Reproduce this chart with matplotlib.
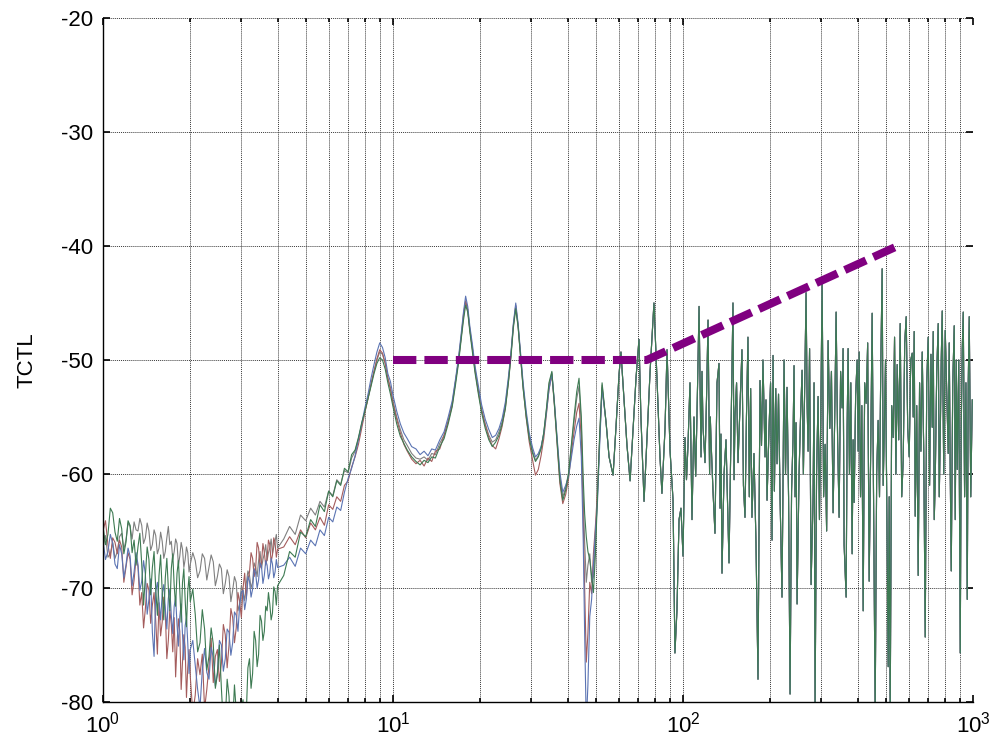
import numpy as np
import matplotlib
matplotlib.use("Agg")
import matplotlib.pyplot as plt
from matplotlib.ticker import FixedLocator, FixedFormatter, FuncFormatter, NullFormatter

plt.rcParams['font.family'] = ['Liberation Sans', 'DejaVu Sans']
plt.rcParams['mathtext.fontset'] = 'custom'
plt.rcParams['mathtext.rm'] = 'Liberation Sans'
plt.rcParams['mathtext.it'] = 'Liberation Sans'
plt.rcParams['axes.unicode_minus'] = False

# ---------------- data ----------------
freq_low = [1.00, 1.02, 1.04, 1.06, 1.08, 1.10, 1.12, 1.14, 1.16, 1.18, 1.20, 1.22, 1.24, 1.26,
            1.28, 1.30, 1.32, 1.34, 1.36, 1.38, 1.40, 1.42, 1.44, 1.46, 1.48, 1.50, 1.52, 1.54,
            1.56, 1.58, 1.60, 1.62, 1.64, 1.66, 1.68, 1.70, 1.72, 1.74, 1.76, 1.78, 1.80, 1.82,
            1.84, 1.86, 1.88, 1.90, 1.92, 1.94, 1.96, 1.98, 2.00,
            2.04, 2.08, 2.12, 2.16, 2.20, 2.24, 2.28, 2.32, 2.36, 2.40, 2.44, 2.48, 2.52, 2.56,
            2.60, 2.64, 2.68, 2.72, 2.76, 2.80, 2.84, 2.88, 2.92, 2.96, 3.00, 3.04, 3.08, 3.12,
            3.16, 3.20, 3.24, 3.28, 3.32, 3.36, 3.40, 3.44, 3.48, 3.52, 3.56, 3.60, 3.64, 3.68,
            3.72, 3.76, 3.80, 3.84, 3.88, 3.92, 3.96, 4.00,
            4.2, 4.4, 4.6, 4.8, 5.0, 5.2, 5.4, 5.6, 5.8, 6.0, 6.2, 6.4, 6.6, 6.8, 7.0,
            7.2, 7.4, 7.6, 7.8, 8.0, 8.2, 8.4, 8.6, 8.8, 9.0, 9.2, 9.4, 9.6]

red_low = [-65.0, -64.1, -66.2, -67.4, -65.6, -66.0, -67.0, -65.8, -66.4, -69.5, -68.2, -66.9, -67.5,
           -70.6, -69.3, -67.4, -68.1, -71.5, -70.4, -73.5, -71.8, -69.6, -70.2, -73.1, -71.5, -70.4,
           -72.9, -75.8, -71.3, -74.2, -73.0, -70.8, -72.1, -76.2, -74.6, -71.9, -73.2, -75.6, -72.6,
           -77.8, -74.9, -72.7, -73.8, -78.9, -76.4, -74.1, -75.2, -79.6, -77.0, -75.4, -77.8,
           -81.0, -79.4, -76.2, -77.6, -75.8, -80.6, -78.9, -76.8, -74.4, -78.3, -76.0, -75.4, -78.2,
           -76.6, -73.2, -74.1, -77.0, -75.0, -71.8, -72.6, -74.8, -73.5, -70.4, -71.2, -72.6, -70.0,
           -68.7, -70.9, -69.3, -68.6, -66.9, -67.4, -69.0, -68.3, -66.0, -66.5, -68.2, -67.8, -66.1,
           -66.9, -68.0, -67.4, -65.8, -66.2, -67.7, -67.1, -65.6, -66.0, -67.3, -66.6,
           -66.4, -65.5, -66.2, -64.9, -65.6, -64.3, -64.9, -63.8, -64.5, -62.7, -63.1, -62.0, -62.4,
           -61.0, -60.6, -59.4, -58.5, -57.4, -56.0, -54.6, -53.4, -52.1, -51.0, -49.9, -49.1, -49.4,
           -50.3, -51.6]

blue_low = [-65.8, -67.5, -66.8, -65.3, -66.1, -67.9, -68.3, -66.2, -67.0, -69.1, -68.0, -66.5, -67.2,
            -69.8, -68.6, -66.9, -67.9, -70.2, -69.4, -67.6, -68.8, -72.3, -71.0, -69.2, -73.9, -76.0,
            -70.3, -69.5, -71.2, -72.8, -70.5, -69.7, -71.8, -73.6, -70.9, -70.1, -72.4, -74.0, -71.6,
            -70.8, -73.2, -75.1, -72.5, -71.4, -74.1, -76.3, -73.3, -72.6, -74.8, -77.5, -75.4,
            -74.6, -76.8, -78.9, -80.5, -77.2, -75.3, -77.4, -78.0, -75.2, -76.1, -78.6, -77.4, -74.6,
            -75.0, -77.3, -76.2, -73.6, -73.9, -75.9, -74.8, -72.1, -72.4, -73.8, -71.5, -70.4, -70.2,
            -71.9, -71.0, -69.0, -69.4, -70.8, -70.1, -68.3, -68.7, -70.0, -69.3, -67.8, -68.1, -69.6,
            -68.9, -67.6, -68.0, -69.2, -68.7, -67.4, -67.9, -69.1, -68.6, -67.5, -68.2,
            -68.0, -67.3, -68.1, -66.5, -67.0, -65.8, -66.3, -64.9, -65.4, -63.8, -64.2, -62.9, -63.2,
            -61.6, -60.4, -59.5, -58.4, -57.0, -55.6, -54.2, -53.0, -51.6, -50.4, -49.3, -48.5, -48.9,
            -49.8, -51.2]

green_low = [-64.6, -66.2, -65.3, -63.0, -63.4, -65.1, -65.9, -63.9, -64.8, -67.0, -66.0, -64.1, -64.5,
             -66.9, -65.8, -68.0, -66.4, -65.2, -67.9, -71.5, -68.9, -66.4, -67.5, -70.6, -68.2, -66.8,
             -70.1, -72.4, -68.9, -67.1, -70.3, -72.8, -69.1, -67.4, -70.0, -72.0, -68.3, -67.0, -69.8,
             -71.6, -68.7, -67.6, -70.2, -73.0, -69.5, -68.3, -71.0, -73.4, -70.3, -69.0, -71.2,
             -70.1, -72.3, -75.6, -74.8, -71.9, -73.6, -77.2, -76.0, -73.5, -74.9, -78.8, -77.6, -75.0,
             -78.8, -82.0, -81.5, -78.0, -79.5, -83.5, -82.0, -78.5, -80.8, -84.0, -83.0, -80.5, -79.8,
             -82.5, -81.0, -77.0, -76.2, -78.8, -77.5, -73.8, -74.6, -76.9, -75.8, -72.4, -72.9, -74.6,
             -73.8, -71.6, -72.0, -70.4, -71.4, -72.8, -72.2, -69.9, -70.3, -71.5, -69.8,
             -68.9, -66.8, -67.3, -65.1, -65.5, -64.0, -64.6, -62.7, -63.3, -61.5, -62.0, -60.6, -61.0,
             -59.5, -59.8, -58.3, -57.9, -56.8, -55.5, -54.5, -53.4, -52.3, -51.2, -50.3, -49.8, -50.0,
             -50.8, -52.0]

gray_low = [-66.5, -65.4, -67.3, -67.0, -66.0, -67.4, -66.8, -65.5, -65.2, -66.6, -65.8, -64.3, -64.6,
            -65.7, -64.2, -64.9, -65.0, -63.9, -64.5, -66.1, -65.6, -64.3, -65.0, -66.7, -66.2, -64.9,
            -65.4, -67.0, -66.5, -65.1, -65.9, -67.4, -66.8, -65.6, -64.6, -66.2, -65.9, -67.5, -66.8,
            -65.7, -66.1, -68.0, -67.2, -66.0, -66.6, -68.2, -67.5, -66.4, -66.9, -68.6, -67.9,
            -66.9, -67.6, -69.1, -68.5, -67.0, -67.4, -69.3, -68.2, -67.1, -67.7, -69.8, -69.0, -67.9,
            -68.3, -70.5, -69.6, -68.4, -69.0, -71.2, -70.2, -69.0, -69.5, -72.0, -71.4, -69.8, -70.3,
            -71.1, -69.6, -68.5, -68.9, -70.0, -69.5, -67.8, -68.2, -69.0, -67.6, -66.8, -68.3, -67.5,
            -67.0, -66.2, -67.6, -66.9, -66.5, -65.7, -67.0, -66.4, -65.9, -65.3, -66.5,
            -65.7, -64.6, -65.3, -63.6, -64.1, -63.0, -63.6, -62.4, -62.9, -61.5, -61.9, -60.5, -60.9,
            -59.7, -59.9, -58.6, -58.0, -56.9, -55.7, -54.5, -53.3, -52.1, -51.0, -50.0, -49.3, -49.5,
            -50.3, -51.6]

freq_mid = [9.8, 10.0, 10.3, 10.6, 10.9, 11.2, 11.6, 12.0, 12.4, 12.8, 13.2, 13.6, 14.0, 14.5,
            15.0, 15.5, 16.0, 16.4, 16.8, 17.2, 17.5, 17.8, 18.1, 18.4, 18.8, 19.2, 19.7, 20.2,
            20.8, 21.4, 22.0, 22.6, 23.2, 23.8, 24.4, 25.0, 25.5, 26.0, 26.5, 27.0, 27.5, 28.1,
            28.8, 29.5, 30.3, 31.0, 31.7, 32.4, 33.1, 33.8, 34.5, 35.3, 36.0, 36.8, 37.6, 38.5,
            39.4, 40.3, 41.2, 42.1, 43.0, 43.8, 44.6, 45.3, 45.8, 46.4, 47.0, 47.7, 48.4, 49.1,
            49.9, 50.7, 51.6, 52.6]

blue_mid = [-51.9, -53.1, -54.5, -55.6, -56.4, -56.9, -57.6, -57.8, -58.3, -58.0, -58.4, -57.8, -57.9,
            -57.0, -56.3, -55.0, -53.6, -51.8, -49.9, -47.6, -45.8, -44.4, -45.3, -47.0, -48.7, -50.6,
            -52.3, -53.9, -55.2, -56.1, -56.8, -56.6, -56.0, -55.1, -53.7, -51.5, -49.4, -46.8, -45.0,
            -46.8, -49.2, -52.0, -54.5, -56.4, -57.7, -58.5, -58.2, -57.6, -56.5, -54.6, -52.6, -51.2,
            -53.6, -56.8, -59.8, -61.6, -61.0, -60.2, -58.6, -57.0, -55.8, -55.1, -58.5,
            -66.0, -74.0, -82.0, -78.5, -72.5, -71.0, -68.0, -65.0, -62.5, -57.5, -52.5]

green_mid = [-53.0, -54.1, -55.6, -56.7, -57.3, -57.9, -58.5, -58.9, -59.2, -58.8, -59.0, -58.5, -58.6,
             -57.6, -56.9, -55.6, -54.1, -52.3, -50.4, -48.1, -46.5, -45.2, -45.8, -47.5, -49.4, -51.2,
             -53.0, -54.6, -56.0, -57.0, -57.6, -57.2, -56.6, -55.6, -54.3, -52.0, -49.8, -47.2, -45.5,
             -47.1, -49.6, -52.5, -55.0, -56.9, -58.2, -58.9, -58.5, -57.8, -56.4, -54.3, -52.0, -51.0,
             -53.8, -57.2, -60.5, -62.3, -61.4, -60.0, -57.5, -55.0, -52.8, -51.6, -55.0,
             -60.5, -63.5, -65.5, -66.8, -67.5, -69.0, -70.4, -67.0, -62.0, -56.5, -52.0]

red_mid = [-52.6, -53.8, -55.2, -56.4, -57.4, -58.0, -58.7, -59.1, -58.8, -59.3, -58.6, -58.9, -58.0,
           -57.8, -56.6, -55.4, -54.0, -52.0, -50.1, -47.9, -46.0, -44.8, -45.6, -47.3, -49.1, -51.0,
           -52.8, -54.4, -55.7, -56.8, -57.5, -57.8, -56.9, -55.8, -54.2, -51.9, -49.6, -47.0, -45.2,
           -47.0, -49.5, -52.4, -55.1, -57.2, -58.8, -60.1, -59.6, -58.4, -56.9, -54.8, -52.6, -51.3,
           -53.9, -57.4, -60.8, -62.6, -61.8, -60.4, -58.2, -56.3, -54.6, -53.8, -57.0,
           -64.0, -70.0, -76.5, -74.0, -69.5, -70.5, -67.0, -64.5, -61.5, -57.0, -52.4]

gray_mid = [-52.4, -53.6, -55.0, -56.1, -57.0, -57.5, -58.2, -58.6, -58.7, -58.5, -58.8, -58.2, -58.3,
            -57.3, -56.6, -55.3, -53.8, -52.0, -50.2, -47.9, -46.2, -44.9, -45.6, -47.3, -49.0, -50.9,
            -52.7, -54.3, -55.6, -56.6, -57.2, -57.0, -56.3, -55.4, -54.0, -51.8, -49.6, -47.0, -45.3,
            -47.0, -49.4, -52.3, -54.8, -56.7, -58.0, -58.8, -58.4, -57.7, -56.4, -54.4, -52.2, -51.1,
            -53.7, -57.0, -60.2, -62.0, -61.2, -59.9, -57.6, -55.4, -53.4, -52.3, -55.6,
            -62.0, -66.0, -69.5, -68.0, -67.0, -69.5, -69.0, -66.0, -61.8, -56.8, -52.2]

freq_high = [54.3, 55.6, 57.4, 58.7, 60.2, 61.1, 62.6, 64.1, 65.7, 67.2, 68.9, 70.5, 71.6, 73.4,
             75.1, 77.0, 79.4, 81.3, 83.3, 84.6, 86.7, 88.1, 90.2, 92.4, 93.8, 95.3, 96.9, 98.4,
             100.0, 101.6, 102.8, 104.0, 105.7, 107.4, 109.1, 110.6, 112.1, 113.6, 115.4, 116.3,
             117.2, 119.1, 120.5, 122.0, 123.5, 124.2, 124.9, 126.9, 128.9, 131.0, 133.1, 134.2,
             135.2, 136.3, 138.5, 140.7, 142.4, 144.1, 146.4, 148.7, 150.0, 151.1, 153.0, 154.8,
             157.2, 159.7, 161.6, 163.6, 165.5, 167.5, 169.3, 171.1, 172.9, 175.7, 178.5, 181.4,
             184.3, 186.5, 188.7, 191.8, 193.3, 194.9, 198.0, 200.4, 202.8, 204.4, 206.6, 208.8,
             211.0, 213.5, 216.1, 219.5, 223.1, 225.7, 228.4, 231.2, 234.0, 236.8, 239.6, 241.5,
             243.4, 245.4, 247.4, 251.3, 254.3, 257.4, 260.1, 262.9, 265.7, 268.0, 270.0, 273.2,
             276.5, 280.9, 283.1, 285.4, 288.8, 292.3, 295.5, 298.6, 301.8, 305.4, 309.1, 312.8,
             316.5, 320.8, 325.0, 329.3, 333.3, 337.3, 341.3, 345.4, 349.5, 353.7, 356.5, 359.4,
             365.2, 368.1, 371.0, 375.0, 379.0, 383.0, 386.0, 389.2, 393.9, 398.6, 401.8, 405.0,
             409.4, 413.7, 418.1, 423.1, 428.1, 433.3, 438.5, 443.8, 449.0, 454.5, 459.9, 465.4,
             470.9, 476.0, 481.1, 486.2, 490.1, 494.0, 499.3, 504.6, 510.0, 514.1, 518.2, 524.4,
             530.7, 536.4, 542.1, 547.8, 554.4, 561.0, 567.8, 574.6, 581.5, 588.4, 595.5, 602.6,
             609.9, 617.1, 622.1, 627.0, 632.0, 639.6, 647.3, 654.3, 661.2, 668.2, 676.3, 684.3,
             692.5, 700.8, 708.4, 716.0, 723.5, 729.3, 735.1, 740.9, 749.8, 758.8, 764.9, 770.9,
             777.1, 783.3, 792.7, 802.2, 811.8, 821.5, 828.1, 834.8, 841.4, 851.5, 861.6, 868.5,
             875.5, 882.4, 893.0, 903.7, 910.9, 918.2, 925.5, 935.5, 945.4, 955.4, 963.0, 970.7,
             982.4, 994.2]

tctl_high = [-55.5, -58.5, -60.1, -56.0, -51.2, -49.3, -53.5, -57.5, -60.6, -56.2, -51.5, -48.2, -55.0,
             -62.4, -57.0, -51.0, -45.0, -51.5, -58.5, -61.7, -56.0, -49.1, -57.9, -62.3, -75.7, -72.0,
             -64.0, -63.0,
             -67.2, -56.8, -60.5, -57.6, -52.0, -64.0, -55.0, -60.2, -53.0, -45.3, -58.5, -51.0,
             -55.8, -59.0, -53.5, -46.5, -60.0, -55.0, -57.0, -61.5, -65.2, -52.0, -50.3, -63.0,
             -56.5, -68.7, -60.0, -57.0, -62.5, -67.8, -56.0, -45.0, -60.5, -55.0, -52.0, -59.0,
             -54.0, -49.1, -61.0, -63.8, -55.0, -48.0, -62.0, -52.5, -63.8, -58.2, -66.0, -78.0,
             -51.8, -57.5, -50.0, -58.5, -53.5, -62.3, -56.0, -52.0, -65.8, -49.6, -61.5, -52.5,
             -59.1, -53.0, -62.0, -70.8, -50.0, -60.0, -52.4, -62.0, -79.3, -61.5, -56.8, -50.5,
             -62.0, -55.5, -71.4, -60.0, -55.0, -50.9, -60.0, -52.0, -44.1, -54.0, -58.0, -49.0,
             -69.7, -62.0, -52.0, -80.5, -60.0, -53.2, -64.0, -55.0, -43.0, -62.0, -57.4, -65.0,
             -48.3, -56.0, -51.0, -63.4, -55.5, -45.8, -57.0, -63.8, -51.0, -54.2, -49.0, -66.2,
             -70.8, -56.0, -49.0, -60.0, -52.0, -67.0, -57.0, -62.5, -53.0, -50.0, -58.0, -49.3,
             -62.0, -54.0, -72.0, -52.0, -53.8, -48.5, -69.4, -58.0, -45.9, -64.0, -81.0, -60.0,
             -55.3, -62.0, -50.0, -42.0, -61.0, -56.8, -50.0, -63.0, -76.9, -62.0, -81.0, -54.0,
             -56.8, -48.0, -60.0, -50.4, -57.0, -46.8, -62.0, -58.8, -48.5, -46.2, -56.0, -58.5,
             -50.0, -49.4, -55.0, -47.5, -63.7, -54.0, -68.9, -52.0, -58.0, -49.3, -58.0, -74.3,
             -52.0, -48.0, -61.0, -49.5, -55.9, -47.5, -64.0, -60.6, -51.0, -46.8, -62.0, -56.8,
             -50.0, -45.7, -60.0, -47.4, -53.0, -58.2, -48.5, -60.0, -68.5, -52.0, -47.0, -64.0,
             -50.0, -59.6, -50.0, -75.7, -56.0, -49.0, -45.8, -62.0, -52.0, -71.0, -52.0, -46.2,
             -62.0, -53.5]

limit_freq = [10, 75, 550]
limit_tctl = [-50, -50, -40]

y_ticks = [-80, -70, -60, -50, -40, -30, -20]
y_tick_labels = ['-80', '-70', '-60', '-50', '-40', '-30', '-20']
x_major = [1, 10, 100, 1000]


def pair(f, v):
    n = min(len(f), len(v))
    return list(f[:n]), list(v[:n])


def build(low, mid):
    f1, v1 = pair(freq_low, low)
    f2, v2 = pair(freq_mid, mid)
    f3, v3 = pair(freq_high, tctl_high)
    return f1 + f2 + f3, v1 + v2 + v3


series = [
    ('gray', gray_low, gray_mid, '#808080'),
    ('red', red_low, red_mid, '#A45C5C'),
    ('blue', blue_low, blue_mid, '#5B74B3'),
    ('green', green_low, green_mid, '#3D7A52'),
]

# ---------------- plot ----------------
fig = plt.figure(figsize=(10.05, 7.45), dpi=100)
ax = fig.add_axes([103 / 1005, 1 - 702 / 745, 870 / 1005, 684 / 745])

for name, lo, mi, col in series:
    f, v = build(lo, mi)
    ax.plot(f, v, color=col, lw=0.8)

ax.plot(limit_freq, limit_tctl, color='#800080', lw=5.8, dashes=(2.9, 1.0),
        dash_capstyle='butt', solid_capstyle='butt')

ax.set_xscale('log')
ax.set_xlim(1, 1000)
ax.set_ylim(-80, -20)

ax.xaxis.set_major_locator(FixedLocator(x_major))
ax.xaxis.set_major_formatter(FuncFormatter(lambda x, p: r'$\mathregular{10^{%d}}$' % int(round(np.log10(x)))))
minor = [m * d for d in (1, 10, 100) for m in range(2, 10)]
ax.xaxis.set_minor_locator(FixedLocator(minor))
ax.xaxis.set_minor_formatter(NullFormatter())
ax.yaxis.set_major_locator(FixedLocator(y_ticks))
ax.yaxis.set_major_formatter(FixedFormatter(y_tick_labels))
ax.yaxis.set_minor_locator(FixedLocator([]))

gstyle = dict(color='#3a3a3a', linestyle=(0, (1, 1)), lw=0.7)
ax.grid(True, which='major', axis='both', **gstyle)
ax.grid(True, which='minor', axis='x', **gstyle)

ax.tick_params(which='both', direction='in', top=True, right=True, labelsize=16, width=1.2)
ax.tick_params(which='major', length=5, pad=7)
ax.tick_params(which='minor', length=3)

for s in ('top', 'right'):
    ax.spines[s].set_visible(False)
for s in ('left', 'bottom'):
    ax.spines[s].set_color('black')
    ax.spines[s].set_linewidth(1.0)

ax.set_ylabel('TCTL', fontsize=16)
ax.yaxis.set_label_coords(-0.075, 0.5)

fig.savefig('out.png', dpi=100)
